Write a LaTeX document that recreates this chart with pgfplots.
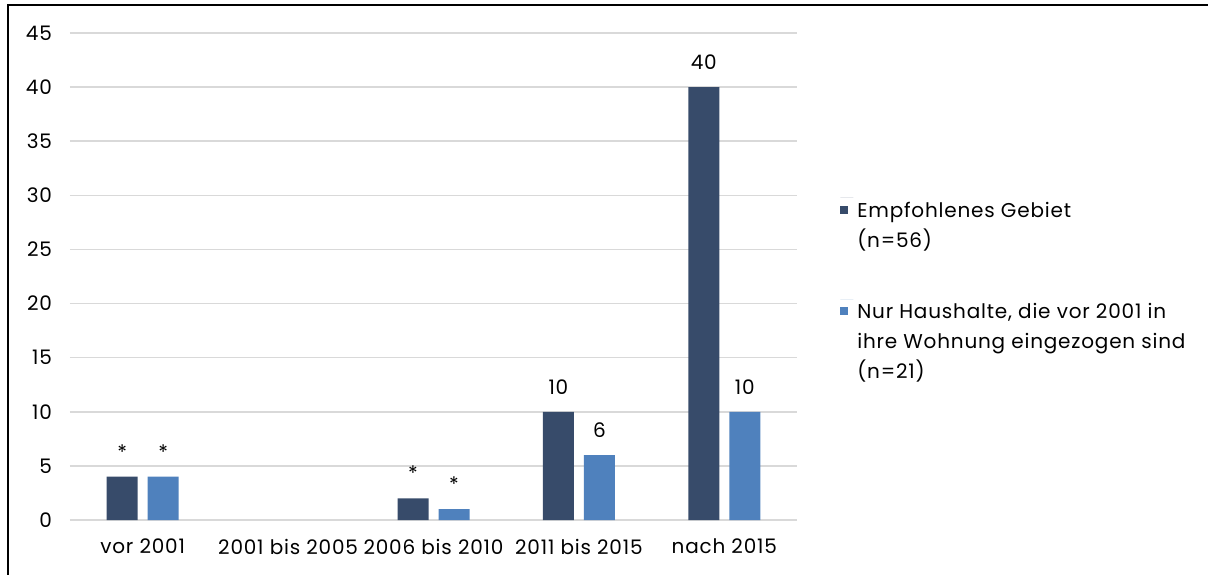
\documentclass[border=0pt]{standalone}
\usepackage{fontspec}
\setmainfont{Poppins}[LetterSpace=4]
\usepackage{pgfplots}
\pgfplotsset{compat=1.18}

\definecolor{dunkel}{RGB}{55,75,106}
\definecolor{hell}{RGB}{79,129,189}
\definecolor{gitter}{RGB}{217,217,217}

\begin{document}
\begin{tikzpicture}
% canvas 1208x574 px at 0.5pt per px, origin = lower left of plot area
\path[use as bounding box] (-35pt,-27pt) rectangle (569pt,260pt);
\draw[line width=1pt] (-31pt,-30pt) -- (-31pt,257.5pt) -- (572pt,257.5pt);
\begin{axis}[
    at={(0,0)}, anchor=south west,
    scale only axis,
    width=363.5pt, height=243.5pt,
    ybar=5pt, bar width=15.5pt,
    xmin=-0.5, xmax=4.5,
    ymin=0, ymax=45,
    xtick={0,1,2,3,4},
    xticklabels={vor 2001, 2001 bis 2005, 2006 bis 2010, 2011 bis 2015, nach 2015},
    ytick={0,5,...,45},
    major tick length=0pt,
    axis line style={draw=none},
    ymajorgrids,
    grid style={gitter, line width=0.75pt},
    tick label style={font=\fontsize{10}{12}\selectfont},
    /pgf/number format/assume math mode=true,
    yticklabel style={xshift=-5.5pt},
    xticklabel style={yshift=-6pt},
    point meta=explicit symbolic,
    nodes near coords,
    nodes near coords style={anchor=south, inner sep=0pt, yshift=8.5pt,
        font=\fontsize{10}{12}\selectfont, black},
    legend style={at={(1.059,0.663)}, anchor=north west, draw=none,
        inner sep=0pt, row sep=22.5pt,
        font=\fontsize{10}{15}\selectfont,
        nodes={align=left, anchor=north west}},
    legend cell align=left,
    legend image code/.code={
        \path (0pt,0pt) -- (6.5pt,0pt);
        \fill[#1] (0pt,-8pt) rectangle (4pt,-4pt);
    },
]
\addplot[draw=none, fill=dunkel] coordinates {
    (0,4) [*] (2,2) [*] (3,10) [10] (4,40) [40]
};
\addlegendentry{Empfohlenes Gebiet\\(n=56)}
\addplot[draw=none, fill=hell] coordinates {
    (0,4) [*] (2,1) [*] (3,6) [6] (4,10) [10]
};
\addlegendentry{Nur Haushalte, die vor 2001 in\\ihre Wohnung eingezogen sind\\(n=21)}
\end{axis}
\end{tikzpicture}
\end{document}
